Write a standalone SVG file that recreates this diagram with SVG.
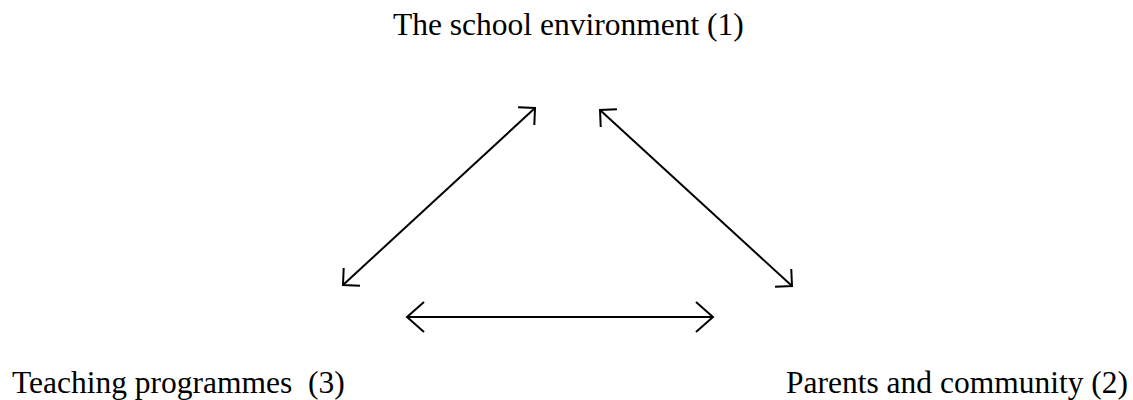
<svg xmlns="http://www.w3.org/2000/svg" width="1133" height="400" viewBox="0 0 1133 400">
<style>
.lbl{font-family:"Liberation Serif","Times New Roman",serif;font-size:31.5px;fill:#000;white-space:pre}
.conn{stroke:#000;stroke-width:2;fill:none}
.head{stroke:#000;stroke-width:2;fill:none}
</style>
<defs>
<marker id="hd" markerUnits="userSpaceOnUse" orient="auto-start-reverse" refX="0" refY="0" markerWidth="40" markerHeight="40" viewBox="-20 -20 40 40" overflow="visible">
<path class="head" d="M -12 -12 L 0 0 L -12 12"/>
</marker>
<marker id="hh" markerUnits="userSpaceOnUse" orient="auto-start-reverse" refX="0" refY="0" markerWidth="40" markerHeight="40" viewBox="-20 -20 40 40" overflow="visible">
<path class="head" d="M -17 -15 L 0 0 L -17 15"/>
</marker>
</defs>
<rect width="1133" height="400" fill="#fff"/>
<g id="node-school"><text class="lbl" x="393" y="35">The school environment (1)</text></g>
<g id="node-teaching"><text class="lbl" x="12" y="393" xml:space="preserve">Teaching programmes  (3)</text></g>
<g id="node-parents"><text class="lbl" x="786" y="393">Parents and community (2)</text></g>
<g id="connectors">
<line class="conn" x1="343" y1="285" x2="535" y2="108" marker-start="url(#hd)" marker-end="url(#hd)"/>
<line class="conn" x1="600" y1="110" x2="792" y2="286" marker-start="url(#hd)" marker-end="url(#hd)"/>
<line class="conn" x1="407" y1="317" x2="713" y2="317" marker-start="url(#hh)" marker-end="url(#hh)"/>
</g>
</svg>
